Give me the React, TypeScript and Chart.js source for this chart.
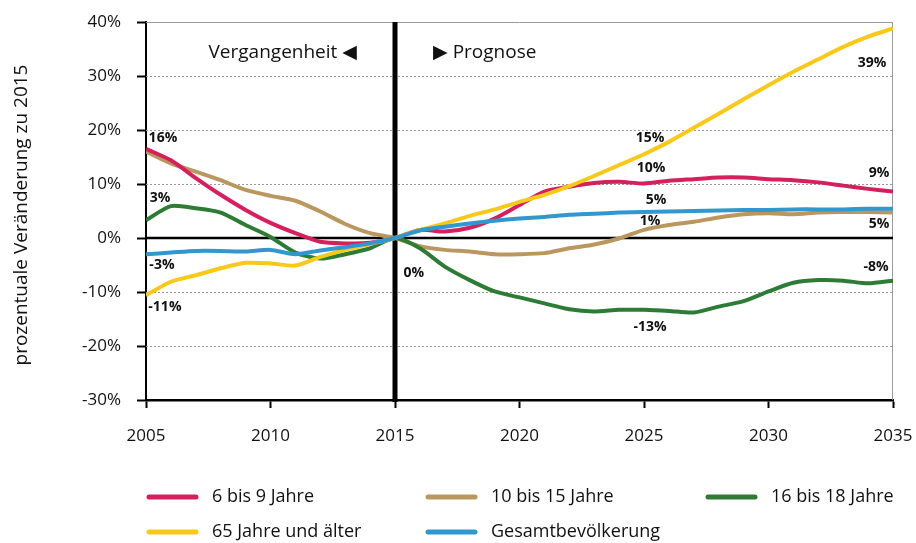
import React, { useEffect, useRef } from 'react';
import { Chart, registerables } from 'chart.js';

Chart.register(...registerables);

const years = [2005, 2006, 2007, 2008, 2009, 2010, 2011, 2012, 2013, 2014, 2015, 2016, 2017, 2018, 2019, 2020, 2021, 2022, 2023, 2024, 2025, 2026, 2027, 2028, 2029, 2030, 2031, 2032, 2033, 2034, 2035];

const age6to9 = [16.5, 14.4, 11.1, 8.0, 5.2, 2.8, 0.9, -0.7, -1.0, -0.9, 0, 1.5, 1.2, 1.9, 3.6, 6.1, 8.6, 9.5, 10.2, 10.4, 10.1, 10.6, 10.9, 11.2, 11.2, 10.9, 10.7, 10.3, 9.7, 9.1, 8.6];
const age10to15 = [16.0, 13.8, 12.3, 10.7, 8.9, 7.8, 6.9, 4.9, 2.6, 0.9, 0, -1.5, -2.2, -2.5, -3.0, -3.0, -2.8, -1.9, -1.2, -0.1, 1.5, 2.4, 3.0, 3.8, 4.4, 4.6, 4.4, 4.7, 4.8, 4.8, 4.7];
const age16to18 = [3.3, 5.9, 5.5, 4.7, 2.4, 0.2, -2.7, -3.8, -3.0, -1.9, 0, -1.9, -5.3, -7.8, -9.9, -11.0, -12.1, -13.2, -13.6, -13.3, -13.3, -13.5, -13.8, -12.7, -11.7, -9.9, -8.3, -7.8, -7.9, -8.4, -7.9];
const age65plus = [-10.6, -8.1, -6.9, -5.6, -4.6, -4.7, -5.1, -3.5, -2.2, -1.1, 0, 1.5, 2.7, 4.1, 5.3, 6.7, 8.0, 9.6, 11.5, 13.5, 15.5, 17.8, 20.4, 23.0, 25.7, 28.3, 30.8, 33.1, 35.4, 37.3, 38.8];
const total = [-3.0, -2.7, -2.4, -2.4, -2.5, -2.2, -3.0, -2.3, -1.7, -1.0, 0, 1.4, 2.1, 2.7, 3.2, 3.6, 3.9, 4.3, 4.5, 4.7, 4.8, 4.9, 5.0, 5.1, 5.2, 5.2, 5.3, 5.3, 5.3, 5.4, 5.4];

const seriesNames = ['6 bis 9 Jahre', '10 bis 15 Jahre', '16 bis 18 Jahre', '65 Jahre und älter', 'Gesamtbevölkerung'];
const seriesValues = [age6to9, age10to15, age16to18, age65plus, total];
const seriesColors = ['#d4205c', '#bb9760', '#2e7b36', '#f8c91b', '#3197cf'];
const seriesOrder = [2, 4, 3, 1, 0];

const yTickMin = -30;
const yTickMax = 40;
const yTickStep = 10;
const xTickMin = 2005;
const xTickMax = 2035;
const xTickStep = 5;
const baseYear = 2015;

const valueLabelTexts = ['16%', '3%', '-3%', '-11%', '0%', '15%', '10%', '5%', '1%', '-13%', '39%', '9%', '5%', '-8%'];
const valueLabelYears = [2005.68, 2005.56, 2005.64, 2005.76, 2015.76, 2025.24, 2025.28, 2025.48, 2025.24, 2025.24, 2034.16, 2034.44, 2034.44, 2034.32];
const valueLabelValues = [18.5, 7.4, -5.0, -12.7, -6.5, 18.5, 13.0, 7.0, 3.2, -16.4, 32.4, 12.1, 2.6, -5.3];

const pastLabel = 'Vergangenheit ◀';
const futureLabel = '▶ Prognose';
const yAxisTitle = 'prozentuale Veränderung zu 2015';

const FONT = "'Open Sans', 'DejaVu Sans', sans-serif";

const decorPlugin = {
  id: 'decor',
  beforeDatasetsDraw(chart: any) {
    const { ctx, chartArea: a, scales } = chart;
    const x = scales.x;
    const y = scales.y;
    ctx.save();
    y.ticks.forEach((t: any) => {
      if (t.value === yTickMin || t.value === 0) return;
      const py = Math.round(y.getPixelForValue(t.value)) + 0.5;
      ctx.strokeStyle = '#9a9a9a';
      ctx.lineWidth = 1;
      ctx.setLineDash(t.value === yTickMax ? [] : [2, 2]);
      ctx.beginPath();
      ctx.moveTo(a.left, py);
      ctx.lineTo(a.right, py);
      ctx.stroke();
    });
    ctx.setLineDash([]);
    ctx.strokeStyle = '#9a9a9a';
    ctx.lineWidth = 1;
    ctx.beginPath();
    ctx.moveTo(Math.round(a.right) - 0.5, a.top);
    ctx.lineTo(Math.round(a.right) - 0.5, a.bottom);
    ctx.stroke();
    const py0 = y.getPixelForValue(0);
    ctx.strokeStyle = '#000';
    ctx.lineWidth = 2.5;
    ctx.beginPath();
    ctx.moveTo(a.left, py0);
    ctx.lineTo(a.right, py0);
    ctx.stroke();
    const px15 = x.getPixelForValue(baseYear);
    ctx.lineWidth = 5;
    ctx.beginPath();
    ctx.moveTo(px15, a.top);
    ctx.lineTo(px15, a.bottom + 2);
    ctx.stroke();
    ctx.restore();
  },
  afterDraw(chart: any) {
    const { ctx, scales } = chart;
    const x = scales.x;
    const y = scales.y;
    ctx.save();
    ctx.fillStyle = '#111';
    ctx.font = `bold 14px ${FONT}`;
    ctx.textAlign = 'center';
    ctx.textBaseline = 'middle';
    valueLabelTexts.forEach((txt, i) => {
      ctx.fillText(txt, x.getPixelForValue(valueLabelYears[i]), y.getPixelForValue(valueLabelValues[i]));
    });
    ctx.font = `19px ${FONT}`;
    const py = y.getPixelForValue(34.3);
    ctx.textAlign = 'right';
    ctx.fillText(pastLabel, x.getPixelForValue(2013.47), py);
    ctx.textAlign = 'left';
    ctx.fillText(futureLabel, x.getPixelForValue(2016.53), py);
    ctx.save();
    ctx.translate(22, 215);
    ctx.rotate(-Math.PI / 2);
    ctx.textAlign = 'center';
    ctx.font = `19px ${FONT}`;
    ctx.fillText(yAxisTitle, 0, 0);
    ctx.restore();
    const colLine = [146, 425, 705];
    const rowY = [497, 532];
    ctx.font = `18px ${FONT}`;
    ctx.textAlign = 'left';
    chart.data.datasets.forEach((ds: any, i: number) => {
      const cx = colLine[i % 3];
      const cy = rowY[Math.floor(i / 3)];
      ctx.strokeStyle = ds.borderColor;
      ctx.lineWidth = 5;
      ctx.lineCap = 'round';
      ctx.beginPath();
      ctx.moveTo(cx + 3, cy);
      ctx.lineTo(cx + 50, cy);
      ctx.stroke();
      ctx.fillStyle = '#111';
      ctx.fillText(ds.label, cx + 66, cy);
    });
    ctx.restore();
  },
};

export default function App() {
  const ref = useRef<HTMLCanvasElement | null>(null);
  useEffect(() => {
    if (!ref.current) return;
    const chart = new Chart(ref.current, {
      type: 'line',
      data: {
        datasets: seriesNames.map((name, i) => ({
          label: name,
          data: years.map((yr, j) => ({ x: yr, y: seriesValues[i][j] })),
          borderColor: seriesColors[i],
          backgroundColor: seriesColors[i],
          borderWidth: 4,
          pointRadius: 0,
          tension: 0.25,
          fill: false,
          order: seriesOrder[i],
        })),
      },
      options: {
        responsive: false,
        animation: false,
        layout: { padding: { top: 22, right: 23, left: 0, bottom: 0 } },
        plugins: { legend: { display: false }, tooltip: { enabled: false } },
        scales: {
          x: {
            type: 'linear',
            min: xTickMin,
            max: xTickMax,
            ticks: {
              stepSize: xTickStep,
              color: '#111',
              font: { family: FONT, size: 17 },
              padding: 18,
              callback: (v: any) => String(v),
              maxRotation: 0,
            },
            grid: { drawOnChartArea: false, drawTicks: true, tickLength: 8, tickColor: '#000', tickWidth: 2 },
            border: { color: '#000', width: 2.5 },
            afterFit: (s: any) => { s.height = 143; s.paddingLeft = 0; s.paddingRight = 0; },
          },
          y: {
            min: yTickMin,
            max: yTickMax,
            ticks: {
              stepSize: yTickStep,
              color: '#111',
              font: { family: FONT, size: 17 },
              padding: 16,
              callback: (v: any) => `${v}%`,
            },
            grid: { drawOnChartArea: false, drawTicks: true, tickLength: 9, tickColor: '#000', tickWidth: 2 },
            border: { color: '#000', width: 2 },
            afterFit: (s: any) => { s.width = 146; s.paddingTop = 0; s.paddingBottom = 0; },
          },
        },
      },
      plugins: [decorPlugin],
    });
    return () => chart.destroy();
  }, []);
  return (
    <div style={{ position: 'absolute', left: 0, top: 0, width: 916, height: 543 }}>
      <canvas ref={ref} width={916} height={543} style={{ display: 'block' }} />
    </div>
  );
}
